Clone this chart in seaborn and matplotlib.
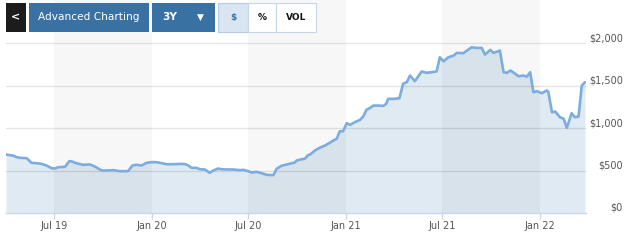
import matplotlib
matplotlib.use("Agg")
import matplotlib.pyplot as plt
from matplotlib.patches import Rectangle
import pandas as pd
import seaborn as sns

# weekly-ish closing prices
dates = [
    "2019-04-02", "2019-04-09", "2019-04-15", "2019-04-22", "2019-04-28", "2019-05-11",
    "2019-05-20", "2019-05-29", "2019-06-08", "2019-06-17", "2019-06-27", "2019-07-03",
    "2019-07-09", "2019-07-22", "2019-07-30", "2019-08-03", "2019-08-12", "2019-08-25",
    "2019-09-07", "2019-09-16", "2019-09-29", "2019-10-08", "2019-10-21", "2019-11-02",
    "2019-11-15", "2019-11-18", "2019-11-26", "2019-12-03", "2019-12-13", "2019-12-22",
    "2020-01-01", "2020-01-10", "2020-01-17", "2020-01-29", "2020-02-11", "2020-02-26",
    "2020-03-04", "2020-03-10", "2020-03-16", "2020-03-25", "2020-04-01", "2020-04-10",
    "2020-04-19", "2020-04-26", "2020-05-05", "2020-05-11", "2020-05-21", "2020-06-02",
    "2020-06-15", "2020-06-21", "2020-07-01", "2020-07-07", "2020-07-16", "2020-07-26",
    "2020-08-04", "2020-08-17", "2020-08-23", "2020-09-01", "2020-09-11", "2020-09-20",
    "2020-09-26", "2020-09-30", "2020-10-09", "2020-10-15", "2020-10-21", "2020-10-25",
    "2020-11-03", "2020-11-12", "2020-11-22", "2020-12-01", "2020-12-10", "2020-12-14",
    "2020-12-20", "2020-12-26", "2021-01-02", "2021-01-08", "2021-01-17", "2021-01-27",
    "2021-02-02", "2021-02-08", "2021-02-15", "2021-02-21", "2021-03-02", "2021-03-12",
    "2021-03-17", "2021-03-21", "2021-03-31", "2021-04-11", "2021-04-18", "2021-04-25",
    "2021-05-01", "2021-05-10", "2021-05-23", "2021-06-01", "2021-06-11", "2021-06-20",
    "2021-06-26", "2021-07-03", "2021-07-12", "2021-07-22", "2021-07-28", "2021-08-09",
    "2021-08-16", "2021-08-25", "2021-09-03", "2021-09-13", "2021-09-19", "2021-09-29",
    "2021-10-05", "2021-10-17", "2021-10-24", "2021-10-30", "2021-11-06", "2021-11-15",
    "2021-11-21", "2021-11-30", "2021-12-07", "2021-12-13", "2021-12-19", "2021-12-26",
    "2022-01-04", "2022-01-13", "2022-01-16", "2022-01-23", "2022-01-29", "2022-02-07",
    "2022-02-14", "2022-02-20", "2022-03-01", "2022-03-07", "2022-03-14", "2022-03-20",
    "2022-03-26",
]
prices = [
    688, 680, 676, 657, 649, 645,
    590, 586, 578, 559, 527, 523,
    539, 543, 609, 609, 586, 567,
    571, 547, 500, 500, 504, 492,
    492, 496, 559, 567, 559, 590,
    598, 598, 590, 574, 574, 578,
    574, 559, 531, 531, 515, 512,
    473, 500, 523, 515, 512, 512,
    504, 508, 492, 476, 484, 468,
    449, 445, 520, 555, 571, 586,
    594, 618, 633, 637, 680, 688,
    735, 767, 794, 826, 861, 873,
    962, 962, 1057, 1037, 1068, 1096,
    1135, 1214, 1237, 1264, 1264, 1260,
    1284, 1343, 1343, 1350, 1520, 1540,
    1617, 1551, 1665, 1649, 1657, 1665,
    1832, 1785, 1832, 1852, 1884, 1880,
    1911, 1950, 1942, 1942, 1864, 1919,
    1884, 1911, 1656, 1649, 1676, 1637,
    1609, 1617, 1605, 1656, 1421, 1433,
    1409, 1441, 1429, 1185, 1194, 1127,
    1108, 1002, 1174, 1127, 1135, 1499,
    1538,
]

tick_dates = ["2019-07-01", "2020-01-01", "2020-07-01", "2021-01-01", "2021-07-01", "2022-01-01"]
tick_labels = ["Jul 19", "Jan 20", "Jul 20", "Jan 21", "Jul 21", "Jan 22"]
y_ticks = [0, 500, 1000, 1500, 2000]
y_labels = ["$0", "$500", "$1,000", "$1,500", "$2,000"]

df = pd.DataFrame({"date": pd.to_datetime(dates), "price": prices})
ticks = pd.to_datetime(tick_dates)

sns.set_style("white")
plt.rcParams["font.family"] = ["DejaVu Sans"]

W, H = 635, 240
fig = plt.figure(figsize=(W / 100, H / 100), dpi=100)
ax = fig.add_axes([6 / W, 27 / H, 580 / W, 213 / H])

# area + line
ax.fill_between(df["date"], df["price"], 0, color="#e0eaf2", lw=0, zorder=1)
sns.lineplot(data=df, x="date", y="price", ax=ax, color="#7caddf", linewidth=1.9, zorder=3)

# alternating half-year bands
for a, b in zip(ticks[0::2], ticks[1::2]):
    ax.axvspan(a, b, color="black", alpha=0.03, lw=0, zorder=1.2)

# horizontal grid
for v in y_ticks[1:]:
    ax.axhline(v, color="black", alpha=0.1, lw=1, zorder=1.5)

ax.set_xlim(pd.Timestamp("2019-04-02"), pd.Timestamp("2022-03-28"))
ax.set_ylim(0, 2506)
ax.set_xlabel("")
ax.set_ylabel("")

ax.set_xticks(ticks)
ax.set_xticklabels(tick_labels)
ax.tick_params(axis="x", bottom=True, length=4, width=1, color="#ccd6eb",
               labelsize=7, labelcolor="#555555", pad=1.5)

ax.set_yticks(y_ticks)
ax.set_yticklabels(y_labels)
ax.yaxis.tick_right()
ax.tick_params(axis="y", length=0, labelsize=7, labelcolor="#555555", pad=26.6)
for lbl in ax.get_yticklabels():
    lbl.set_horizontalalignment("right")
    lbl.set_verticalalignment("bottom")

for s in ["top", "left", "right"]:
    ax.spines[s].set_visible(False)
ax.spines["bottom"].set_color("#ccd6eb")
ax.spines["bottom"].set_linewidth(1)


# toolbar buttons on top
def button(x0, x1, face, edge=None):
    r = Rectangle((x0 / W, 1 - 32 / H), (x1 - x0) / W, 29 / H, transform=fig.transFigure,
                  facecolor=face, edgecolor=edge if edge else face, lw=0.8 if edge else 0, zorder=5)
    fig.add_artist(r)


def label(x, s, color, size, weight="normal"):
    fig.text(x / W, 1 - 17.5 / H, s, color=color, fontsize=size, fontweight=weight,
             ha="center", va="center", zorder=6)


blue = "#3a71a3"
button(6, 26, "#1c1c1c")
label(16, "<", "white", 8, "bold")
button(29, 149, blue)
label(89, "Advanced Charting", "white", 7.6)
button(152, 215, blue)
label(169.5, "3Y", "white", 7.6, "bold")
label(200, "▼", "white", 6.5)
button(218, 248, "#d9e5f0", "#b5cbe0")
label(233, "$", "#3a71a3", 6.5, "bold")
button(248, 276, "white", "#c6d6e6")
label(262, "%", "#111111", 6.5, "bold")
button(276, 316, "white", "#c6d6e6")
label(296, "VOL", "#111111", 6.5, "bold")

fig.savefig("out.png", dpi=100)
